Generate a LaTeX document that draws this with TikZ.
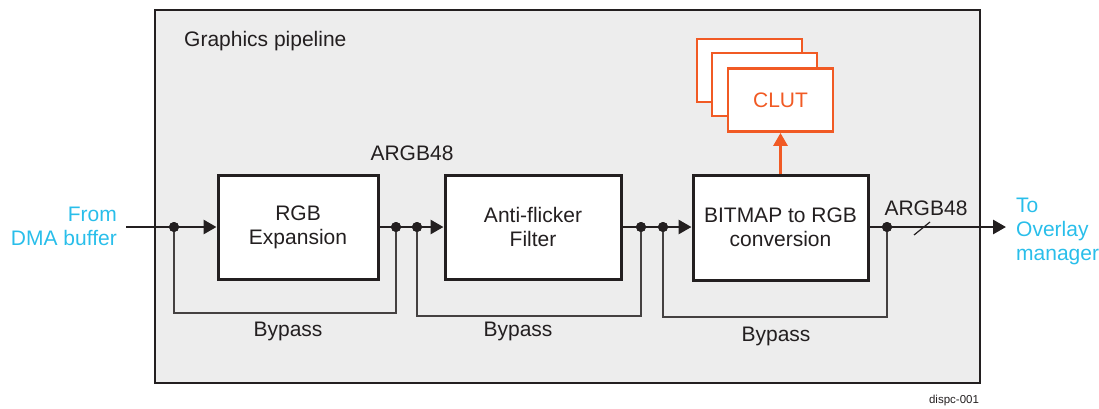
\documentclass[tikz,border=0pt]{standalone}
\usepackage{fontspec}
\setmainfont{Liberation Sans}
\usetikzlibrary{arrows.meta}
\definecolor{pipegray}{RGB}{237,237,237}
\definecolor{tiblue}{RGB}{41,190,234}
\definecolor{tiorange}{RGB}{241,90,36}
\definecolor{ink}{RGB}{35,31,32}
\begin{document}
\begin{tikzpicture}[x=1pt,y=-1pt,
  every node/.style={font=\fontsize{21}{24}\selectfont, text=ink},
  lbl/.style={inner sep=0pt},
  bluelbl/.style={inner sep=0pt, text=tiblue},
  procbox/.style={draw=ink, line width=3pt, fill=white, align=center, inner sep=0pt},
  clutbox/.style={draw=tiorange, line width=2.8pt, fill=white, minimum width=105, minimum height=63, inner sep=0pt, text=tiorange},
  sig/.style={draw=ink, line width=2.8pt},
  sigarrow/.style={sig, -{Triangle[length=13pt,width=14pt]}},
  byp/.style={draw=ink!85, line width=1.4pt},
  junc/.style={circle, fill=ink, inner sep=0pt, minimum size=10pt},
]
\useasboundingbox (0,0) rectangle (1099,408);
% outer pipeline frame
\node[draw=ink, line width=2.4pt, fill=pipegray, minimum width=825, minimum height=373, inner sep=0pt] (pipe) at (567.5,196.5) {};
\node[lbl, anchor=west] (title) at (184,41) {Graphics pipeline};

% process boxes
\node[procbox, minimum width=160, minimum height=104] (rgb) at (298,227) {RGB\\Expansion};
\node[procbox, minimum width=176, minimum height=104] (aff) at (533,227) {Anti-flicker\\Filter};
\node[procbox, minimum width=175, minimum height=105] (bmp) at (780.5,227.5) {BITMAP to RGB\\conversion};

% CLUT stack
\node[clutbox] (clut1) at (749.5,70.5) {};
\node[clutbox] (clut2) at (764.5,84.5) {};
\node[clutbox] (clut3) at (780.5,100) {CLUT};

% junctions
\node[junc] (d0) at (174,227) {};
\node[junc] (d1) at (396,227) {};
\node[junc] (d2) at (417,227) {};
\node[junc] (d3) at (641,227) {};
\node[junc] (d4) at (663,227) {};
\node[junc] (d5) at (887,227) {};
\coordinate (src) at (126,227);
\coordinate (dst) at (1006,227);
\coordinate (by1) at (285,313);
\coordinate (by2) at (530,316);
\coordinate (by3) at (775,317);
\coordinate (sl) at (922,228);

% bypass paths
\draw[byp] (d0.center) |- (by1) -| (d1.center);
\draw[byp] (d2.center) |- (by2) -| (d3.center);
\draw[byp] (d4.center) |- (by3) -| (d5.center);

% signal path
\draw[sig] (src) -- (d0.center);
\draw[sigarrow] (d0.center) -- (rgb.west);
\draw[sig] (rgb.east) -- (d2.center);
\draw[sigarrow] (d2.center) -- (aff.west);
\draw[sig] (aff.east) -- (d4.center);
\draw[sigarrow] (d4.center) -- (bmp.west |- d4);
\draw[sig] (bmp.east |- d5) -- (d5.center);
\draw[sigarrow] (d5.center) -- (dst);
\draw[draw=ink, line width=1.2pt] ([shift={(-8,7)}]sl) -- ([shift={(8,-6)}]sl);
\draw[draw=tiorange, line width=2.8pt, -{Triangle[length=13pt,width=14pt]}] (bmp.north) -- (clut3.south);

% redraw junction dots on top
\foreach \j in {d0,d1,d2,d3,d4,d5} \fill[ink] (\j) circle (5pt);

% labels
\node[lbl] (arg1) at (412,153) {ARGB48};
\node[lbl] (arg2) at (926,208) {ARGB48};
\node[lbl] (bp1) at (288,331) {Bypass};
\node[lbl] (bp2) at (518,331) {Bypass};
\node[lbl] (bp3) at (776,336) {Bypass};
\node[bluelbl, align=right, anchor=east] (from) at (117,226) {From\\DMA buffer};
\node[bluelbl, align=left, anchor=west] (to) at (1016,231) {To\\Overlay\\manager};
\node[lbl, font=\fontsize{11.5}{13}\selectfont] (tag) at (954,401) {dispc-001};
\end{tikzpicture}
\end{document}
